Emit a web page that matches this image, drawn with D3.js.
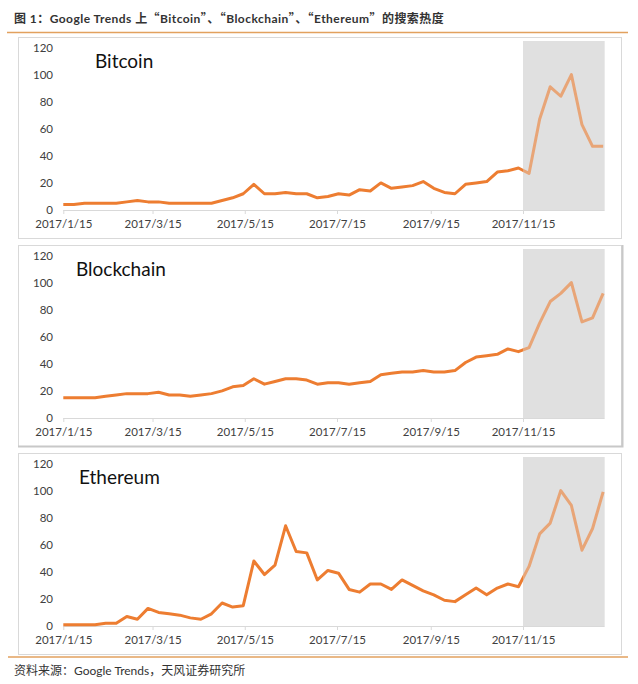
<!DOCTYPE html>
<html>
<head>
<meta charset="utf-8">
<script src="https://cdn.jsdelivr.net/npm/d3@7"></script>
<style>
  body { margin: 0; background: #fff; }
  svg { display: block; }
  text { font-family: Lato, "Noto Sans CJK SC", sans-serif; }
</style>
</head>
<body>
<div id="chart"></div>
<script>
// weekly Google Trends points, Sundays from 2017/1/15 to 2018/1/7
var weeks = d3.timeWeek.range(new Date(2017, 0, 15), new Date(2018, 0, 8));

var bitcoin = [4,4,5,5,5,5,6,7,6,6,5,5,5,5,5,7,9,12,19,12,12,13,12,12,9,
  10,12,11,15,14,20,16,17,18,21,16,13,12,19,20,21,28,29,31,27,67,91,84,100,63,47,47];
var blockchain = [15,15,15,15,16,17,18,18,18,19,17,17,16,17,18,20,23,24,29,25,27,29,29,28,25,
  26,26,25,26,27,32,33,34,34,35,34,34,35,41,45,46,47,51,49,52,70,86,92,100,71,74,92];
var ethereum = [1,1,1,1,2,2,7,5,13,10,9,8,6,5,9,17,14,15,48,38,45,74,55,54,34,
  41,39,27,25,31,31,27,34,30,26,23,19,18,23,28,23,28,31,29,44,68,76,100,89,56,72,99];

var seriesNames = ["Bitcoin", "Blockchain", "Ethereum"];
var tickDates = ["2017/1/15", "2017/3/15", "2017/5/15", "2017/7/15", "2017/9/15", "2017/11/15"];
var yTicks = [0, 20, 40, 60, 80, 100, 120];
var shadeRange = ["2017/11/15", "2018/1/8"];

var titleText = "图 1：Google Trends 上“Bitcoin”、“Blockchain”、“Ethereum”的搜索热度";
var sourceText = "资料来源：Google Trends，天风证券研究所";

var width = 638, height = 684;
var orange = "#ED7D31";
var parse = d3.timeParse("%Y/%-m/%-d");

var svg = d3.select("#chart").append("svg")
  .attr("width", width).attr("height", height);

svg.append("rect").attr("width", width).attr("height", height).attr("fill", "#fff");

// split a string into latin / CJK runs so that quotes get full width
function addRuns(textSel, str) {
  var runs = str.match(/[\x20-\x7e]+|[^\x20-\x7e]+/g);
  runs.forEach(function (r) {
    textSel.append("tspan")
      .attr("font-family", /^[\x20-\x7e]+$/.test(r) ? "Lato, sans-serif" : "'Noto Sans CJK SC', sans-serif")
      .text(r);
  });
}

// header
var title = svg.append("text")
  .attr("x", 14).attr("y", 23)
  .attr("font-size", 12).attr("font-weight", "bold").attr("fill", "#333")
  .attr("letter-spacing", 0.45);
addRuns(title, titleText);
svg.append("line")
  .attr("x1", 7).attr("x2", 628).attr("y1", 32.5).attr("y2", 32.5)
  .attr("stroke", "#E2A15E").attr("stroke-width", 1.5);

var x = d3.scaleTime()
  .domain([parse("2017/1/15"), parse("2017/11/15")])
  .range([63.3, 523]);

var panels = [
  { name: seriesNames[0], values: bitcoin, top: 37, labelX: 95, border: "#d9d9d9", bw: 1 },
  { name: seriesNames[1], values: blockchain, top: 245, labelX: 76, border: "#c8c8c8", bw: 2 },
  { name: seriesNames[2], values: ethereum, top: 453, labelX: 79, border: "#dcdcdc", bw: 1 }
];

panels.forEach(function (p, i) {
  var g = svg.append("g");
  var boxH = 201;

  // outer frame
  g.append("rect")
    .attr("x", 18.5).attr("y", p.top + 0.5)
    .attr("width", 603).attr("height", boxH)
    .attr("fill", "#fff").attr("stroke", "#d9d9d9");
  if (p.bw > 1) {
    g.append("path")
      .attr("d", "M18," + (p.top + boxH + 0.5) + "H622.5V" + p.top)
      .attr("fill", "none").attr("stroke", p.border).attr("stroke-width", 2);
  }

  var y = d3.scaleLinear().domain([0, 120]).range([p.top + 173, p.top + 10.5]);

  // shaded period
  var sx0 = x(parse(shadeRange[0])), sx1 = x(parse(shadeRange[1]));
  g.append("rect")
    .attr("x", sx0).attr("y", p.top + 4)
    .attr("width", sx1 - sx0).attr("height", y(0) - p.top - 4)
    .attr("fill", "#e0e0e0");

  // x axis
  var xAxis = g.append("g")
    .attr("transform", "translate(0," + y(0) + ")")
    .call(d3.axisBottom(x)
      .tickValues(tickDates.map(parse))
      .tickFormat(d3.timeFormat("%Y/%-m/%-d"))
      .tickSize(4).tickSizeOuter(0));
  xAxis.select(".domain").attr("d", "M" + x(weeks[0]) + ",0.5H" + sx1).attr("stroke", "#d9d9d9");
  xAxis.selectAll(".tick line").attr("stroke", "#d9d9d9");
  xAxis.selectAll(".tick text")
    .attr("font-family", "Lato, sans-serif").attr("font-size", 11.5)
    .attr("fill", "#404040").attr("dy", "0.95em");

  // y axis (labels only)
  var yAxis = g.append("g")
    .attr("transform", "translate(53,0)")
    .call(d3.axisLeft(y).tickValues(yTicks).tickSize(0).tickPadding(0));
  yAxis.select(".domain").remove();
  yAxis.selectAll(".tick text")
    .attr("font-family", "Lato, sans-serif").attr("font-size", 11.5)
    .attr("fill", "#404040");

  // line, full colour before the shade and faded inside it
  var clipA = "clipA" + i, clipB = "clipB" + i;
  var defs = g.append("defs");
  defs.append("clipPath").attr("id", clipA).append("rect")
    .attr("x", 0).attr("y", p.top).attr("width", sx0).attr("height", boxH);
  defs.append("clipPath").attr("id", clipB).append("rect")
    .attr("x", sx0).attr("y", p.top).attr("width", width - sx0).attr("height", boxH);

  var line = d3.line()
    .x(function (d, j) { return x(weeks[j]); })
    .y(function (d) { return y(d); });

  g.append("path").datum(p.values)
    .attr("clip-path", "url(#" + clipA + ")")
    .attr("d", line).attr("fill", "none")
    .attr("stroke", orange).attr("stroke-width", 3)
    .attr("stroke-linejoin", "round");
  g.append("path").datum(p.values)
    .attr("clip-path", "url(#" + clipB + ")")
    .attr("d", line).attr("fill", "none")
    .attr("stroke", orange).attr("stroke-opacity", 0.6).attr("stroke-width", 3)
    .attr("stroke-linejoin", "round");

  // series label
  g.append("text")
    .attr("x", p.labelX).attr("y", p.top + 31)
    .attr("font-family", "Lato, sans-serif").attr("font-size", 19)
    .attr("fill", "#111")
    .text(p.name);
});

// footer
svg.append("line")
  .attr("x1", 8).attr("x2", 628).attr("y1", 657).attr("y2", 657)
  .attr("stroke", "#E2A15E").attr("stroke-width", 1.5);
svg.append("text")
  .attr("x", 14).attr("y", 675)
  .attr("font-size", 12).attr("fill", "#333")
  .text(sourceText);
</script>
</body>
</html>
